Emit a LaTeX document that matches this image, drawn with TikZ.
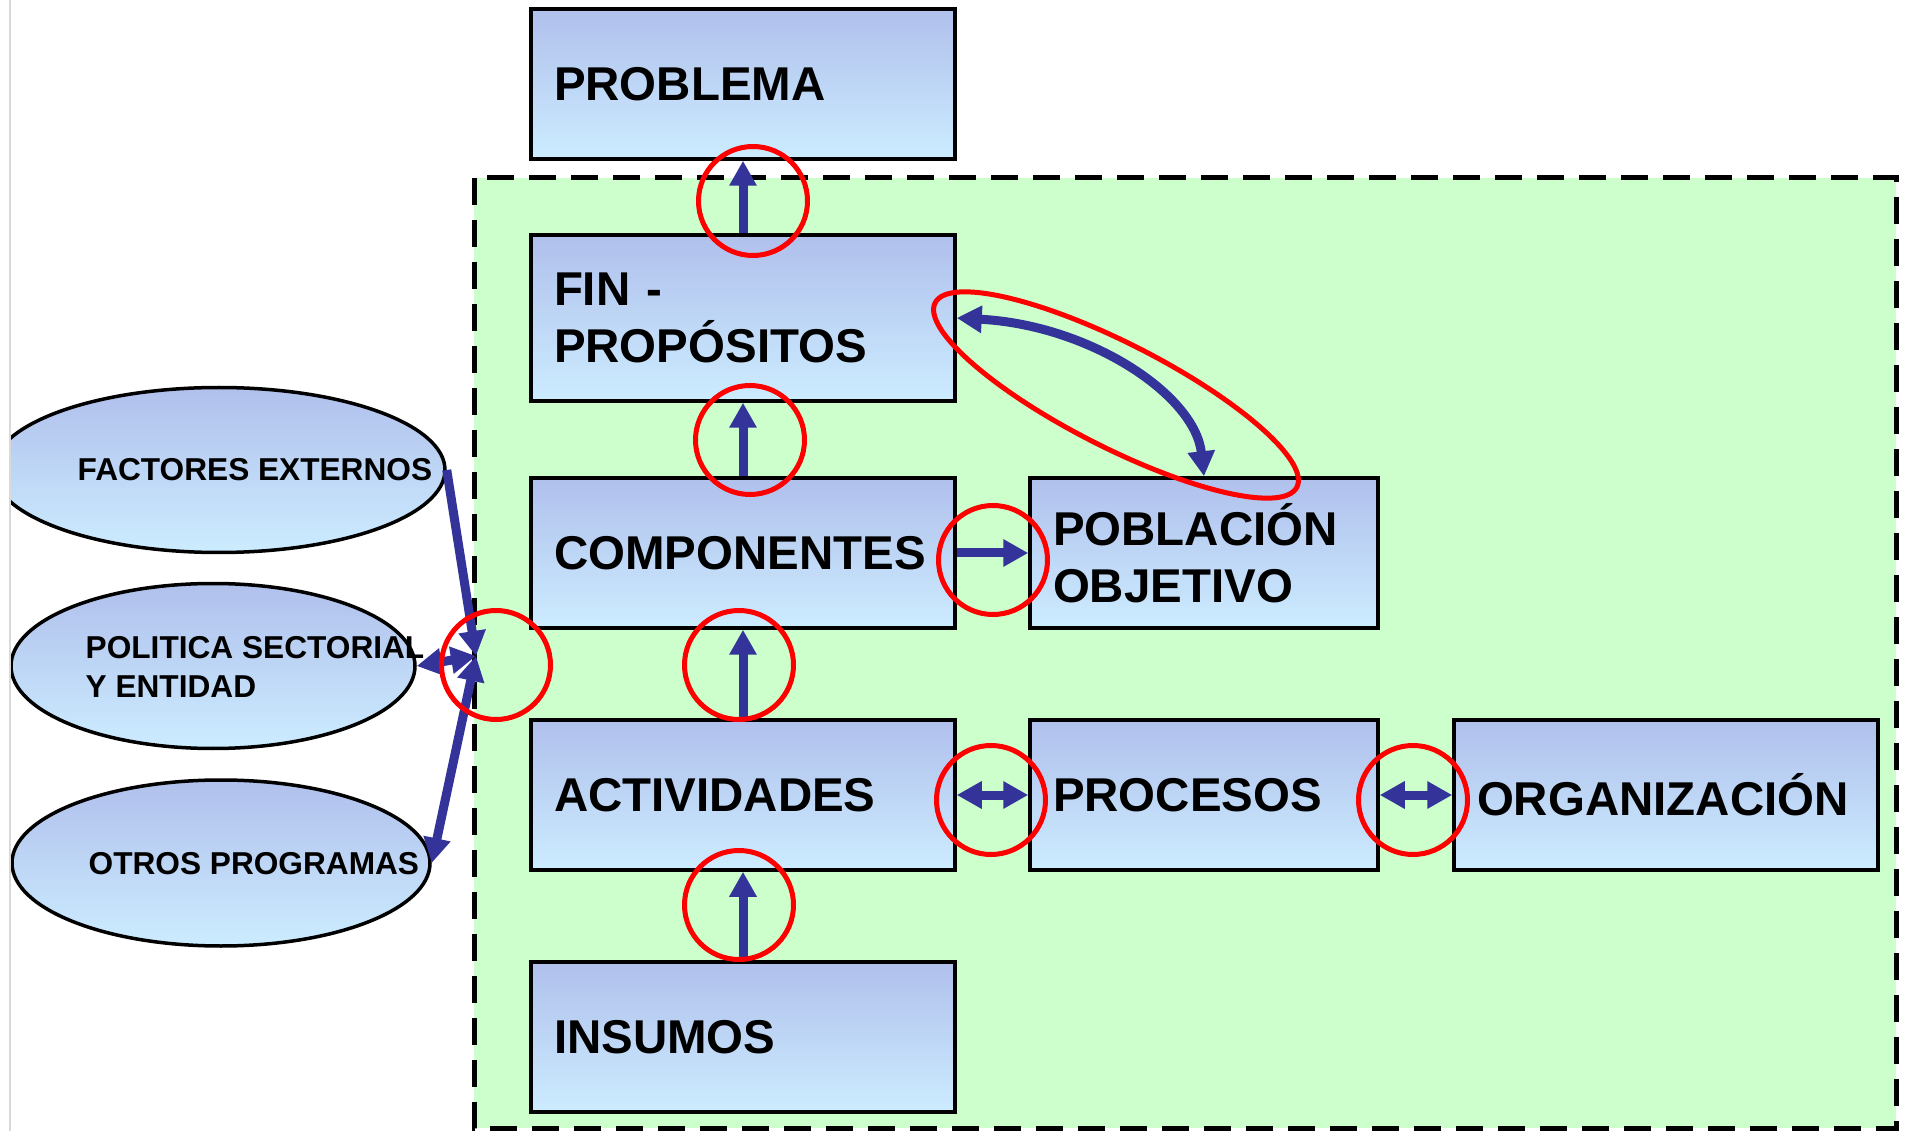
\documentclass[tikz,border=0pt]{standalone}
\usepackage{fontspec}
\setmainfont{Liberation Sans}
\usetikzlibrary{arrows.meta,shapes.geometric}
\definecolor{boxtop}{RGB}{176,192,236}
\definecolor{boxbot}{RGB}{204,236,255}
\definecolor{zona}{RGB}{204,255,204}
\definecolor{flecha}{RGB}{51,51,153}
\tikzset{
	>={Triangle[width=2.6mm,length=2.5mm]},
	caja/.style={draw=black, line width=0.35mm, top color=boxtop, bottom color=boxbot, inner xsep=2.3mm, inner ysep=0pt, text width=#1, minimum height=15mm, align=left, font=\fontsize{13.5}{16.2}\selectfont\bfseries},
	ovalo/.style={ellipse, draw=black, line width=0.35mm, top color=boxtop, bottom color=boxbot, inner sep=0pt},
	ovtexto/.style={anchor=west, inner sep=0pt, align=left, font=\fontsize{9}{11.1}\selectfont\bfseries},
	flechita/.style={draw=flecha, line width=0.9mm, ->},
	doble/.style={draw=flecha, line width=0.9mm, <->},
	anillo/.style={draw=red, line width=0.5mm}
}
\begin{document}
\begin{tikzpicture}[x=0.1mm, y=-0.1mm]
	\useasboundingbox (0,0) rectangle (1906,1131);
	\fill[white] (0,0) rectangle (1906,1131);
	\fill[zona] (474,178) rectangle (1896,1128);
	\draw[line width=0.5mm, dash pattern=on 2.7mm off 1.5mm] (474,178) rectangle (1896,1128);

	\node[ovalo, minimum width=45.2mm, minimum height=16.5mm] (factores) at (219,470) {};
	\node[ovalo, minimum width=40.4mm, minimum height=16.5mm] (politica) at (213,666) {};
	\node[ovalo, minimum width=41.8mm, minimum height=16.6mm] (otros) at (221,863) {};
	\node[ovtexto] (factorestxt) at (77,470) {FACTORES EXTERNOS};
	\node[ovtexto] (politicatxt) at (85,667) {POLITICA SECTORIAL\\Y ENTIDAD};
	\node[ovtexto] (otrostxt) at (88,864) {OTROS PROGRAMAS};
	\coordinate (hub) at (476,656);

	\node[caja=37.8mm] (problema) at (743,84) {PROBLEMA};
	\node[caja=37.8mm, minimum height=16.6mm] (fin) at (743,318) {FIN -\\PROPÓSITOS};
	\node[caja=37.8mm] (componentes) at (743,553) {COMPONENTES};
	\node[caja=37.8mm] (actividades) at (743,795) {ACTIVIDADES};
	\node[caja=37.8mm] (insumos) at (743,1037) {INSUMOS};
	\node[caja=30.2mm] (poblacion) at (1204,553) {POBLACIÓN\\OBJETIVO};
	\node[caja=30.2mm] (procesos) at (1204,795) {PROCESOS};
	\node[caja=37.8mm] (organizacion) at (1666,795) {ORGANIZACIÓN};

	\draw[flechita] (fin) -- (problema);
	\draw[flechita] (componentes) -- (fin);
	\draw[flechita] (actividades) -- (componentes);
	\draw[flechita] (insumos) -- (actividades);
	\draw[flechita] (componentes) -- (poblacion);
	\draw[doble] (actividades) -- (procesos);
	\draw[doble] (procesos) -- (organizacion);
	\draw[doble] (fin.east) .. controls (1090,325) and (1195,395) .. (poblacion.north);
	\draw[flechita] (factores.east) -- (hub);
	\draw[doble] (politica.east) -- (hub);
	\draw[doble] (otros.east) -- (hub);

	\foreach \x/\y in {753/201, 750/440, 739/665, 739/905, 496/665, 993/560, 991/800, 1413/800}
		\draw[anillo] (\x,\y) circle (5.45mm);
	\draw[anillo, rotate around={-27:(1116,395)}] (1116,395) ellipse (20.3mm and 5.2mm);

	\fill[white] (0,0) rectangle (10,1131);
	\draw[gray!30, line width=0.25mm] (10,0) -- (10,1131);
\end{tikzpicture}
\end{document}
